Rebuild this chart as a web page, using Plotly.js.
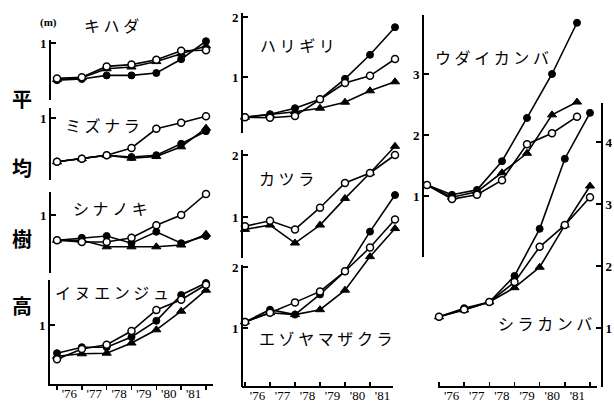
<!DOCTYPE html>
<html><head><meta charset="utf-8">
<script src="https://cdn.plot.ly/plotly-3.0.1.min.js"></script>
<style>html,body{margin:0;padding:0;background:#fff}#chart{width:614px;height:405px}</style>
</head><body><div id="chart"></div>
<script>
// ---------- data (metres) ----------
const years = [1975, 1976, 1977, 1978, 1979, 1980, 1981];
const labelYears = [1975.5, 1976.5, 1977.5, 1978.5, 1979.5, 1980.5];
const yearLabels = ["'76", "'77", "'78", "'79", "'80", "'81"];

const kihadaFilled = [0.38, 0.40, 0.46, 0.46, 0.50, 0.73, 1.03];
const kihadaOpen   = [0.41, 0.43, 0.61, 0.64, 0.72, 0.87, 0.88];
const kihadaTri    = [0.39, 0.42, 0.57, 0.60, 0.69, 0.82, 0.95];

const mizunaraFilled = [0.27, 0.32, 0.38, 0.35, 0.38, 0.57, 0.78];
const mizunaraOpen   = [0.27, 0.32, 0.38, 0.50, 0.82, 0.92, 1.03];
const mizunaraTri    = [0.27, 0.32, 0.38, 0.33, 0.36, 0.52, 0.83];

const shinanokiFilled = [0.58, 0.62, 0.65, 0.53, 0.72, 0.53, 0.65];
const shinanokiOpen   = [0.58, 0.55, 0.55, 0.62, 0.83, 1.00, 1.35];
const shinanokiTri    = [0.58, 0.58, 0.47, 0.47, 0.47, 0.50, 0.68];

const inuenjuFilled = [0.53, 0.63, 0.63, 0.80, 1.07, 1.50, 1.70];
const inuenjuOpen   = [0.43, 0.60, 0.67, 0.90, 1.25, 1.42, 1.67];
const inuenjuTri    = [0.48, 0.52, 0.53, 0.70, 0.92, 1.23, 1.58];

const harigiriFilled = [0.33, 0.38, 0.48, 0.63, 0.97, 1.37, 1.83];
const harigiriOpen   = [0.33, 0.32, 0.35, 0.63, 0.90, 1.02, 1.30];
const harigiriTri    = [0.33, 0.37, 0.42, 0.48, 0.58, 0.77, 0.92];

const katsuraOpen = [0.85, 0.94, 0.80, 1.15, 1.55, 1.71, 2.00];
const katsuraTri  = [0.80, 0.87, 0.58, 0.87, 1.30, 1.71, 2.14];

const ezoyamaFilled = [1.10, 1.30, 1.22, 1.55, 1.93, 2.58, 3.18];
const ezoyamaOpen   = [1.10, 1.25, 1.42, 1.60, 1.93, 2.32, 2.78];
const ezoyamaTri    = [1.10, 1.25, 1.22, 1.30, 1.62, 2.17, 2.63];

const udaiFilled = [1.18, 1.02, 1.10, 1.57, 2.28, 3.00, 3.84];
const udaiOpen   = [1.18, 0.95, 1.02, 1.26, 1.85, 2.03, 2.30];
const udaiTri    = [1.18, 0.98, 1.07, 1.38, 1.70, 2.33, 2.54];

const shirakanbaFilled = [1.18, 1.32, 1.42, 1.84, 2.60, 3.73, 4.47];
const shirakanbaOpen   = [1.18, 1.30, 1.42, 1.74, 2.31, 2.66, 3.11];
const shirakanbaTri    = [1.18, 1.29, 1.42, 1.65, 1.98, 2.66, 3.29];

// ---------- geometry ----------
const W = 614, H = 405;
const px = p => p / W, py = p => 1 - p / H;

const cols = {
  c1:  {id: 'x',  x0: 57,  x6: 206},
  c2:  {id: 'x2', x0: 245, x6: 395},
  c3:  {id: 'x3', x0: 439, x6: 590},
  c3u: {id: 'x4', x0: 427, x6: 577}
};
function yr(c, p) { const dx = (c.x6 - c.x0) / 6; return years[0] + (p - c.x0) / dx; }

const panels = [
  {name: 'キ ハ ダ', lx: 111, ly: 25, col: 'c1', s: {filled: kihadaFilled, tri: kihadaTri, open: kihadaOpen},
   ref: 1, refPix: 43, scale: 60, segTop: 40, segBot: 100, axisX: 50, tv: [1], side: 'left'},
  {name: 'ミ ズ ナ ラ', lx: 102, ly: 125, col: 'c1', s: {filled: mizunaraFilled, tri: mizunaraTri, open: mizunaraOpen},
   ref: 1, refPix: 118, scale: 60, segTop: 108, segBot: 180, axisX: 50, tv: [1], side: 'left'},
  {name: 'シ ナ ノ キ', lx: 110, ly: 208, col: 'c1', s: {filled: shinanokiFilled, tri: shinanokiTri, open: shinanokiOpen},
   ref: 1, refPix: 215, scale: 60, segTop: 192, segBot: 273, axisX: 50, tv: [1], side: 'left'},
  {name: 'イ ヌ エ ン ジ ュ', lx: 112, ly: 292, col: 'c1', s: {filled: inuenjuFilled, tri: inuenjuTri, open: inuenjuOpen},
   ref: 1, refPix: 325, scale: 60, segTop: 280, segBot: 386, axisX: 49, tv: [1], side: 'left'},
  {name: 'ハ リ ギ リ', lx: 297, ly: 45, col: 'c2', s: {filled: harigiriFilled, tri: harigiriTri, open: harigiriOpen},
   ref: 1, refPix: 77, scale: 60, segTop: 13, segBot: 133, axisX: 242, tv: [1, 2], side: 'left'},
  {name: 'カ ツ ラ', lx: 286, ly: 178, col: 'c2', s: {tri: katsuraTri, open: katsuraOpen},
   ref: 1, refPix: 217, scale: 62, segTop: 150, segBot: 258, axisX: 242, tv: [1, 2], side: 'left'},
  {name: 'エ ゾ ヤ マ ザ ク ラ', lx: 326, ly: 338, col: 'c2', s: {filled: ezoyamaFilled, tri: ezoyamaTri, open: ezoyamaOpen},
   ref: 1, refPix: 328, scale: 61, segTop: 265, segBot: 387, axisX: 242, tv: [1, 2], side: 'left'},
  {name: 'ウ ダ イ カ ン バ', lx: 492, ly: 57, col: 'c3u', s: {filled: udaiFilled, tri: udaiTri, open: udaiOpen},
   ref: 1, refPix: 196, scale: 61, segTop: 15, segBot: 257, axisX: 423, tv: [1, 2, 3], side: 'left'},
  {name: 'シ ラ カ ン バ', lx: 545, ly: 323, col: 'c3', s: {filled: shirakanbaFilled, tri: shirakanbaTri, open: shirakanbaOpen},
   ref: 1, refPix: 328, scale: 62, segTop: 103, segBot: 387, axisX: 602, tv: [1, 2, 3, 4], side: 'right'}
];

const styles = {
  filled: {symbol: 'circle', size: 7, color: '#000', line: {color: '#000', width: 1}},
  tri:    {symbol: 'triangle-up', size: 8, color: '#000', line: {color: '#000', width: 1}},
  open:   {symbol: 'circle', size: 7, color: '#fff', line: {color: '#000', width: 1.5}}
};

const layout = {
  width: W, height: H, margin: {l: 0, r: 0, t: 0, b: 0, pad: 0},
  paper_bgcolor: '#fff', plot_bgcolor: 'rgba(0,0,0,0)',
  showlegend: false, hovermode: false, dragmode: false,
  font: {family: 'Liberation Serif', color: '#000'},
  annotations: []
};
const traces = [];

// data x axes (hidden)
Object.values(cols).forEach(c => {
  const key = c.id === 'x' ? 'xaxis' : 'xaxis' + c.id.slice(1);
  layout[key] = {visible: false, domain: [0, 1], range: [yr(c, 0), yr(c, W)], anchor: 'free', position: 0, fixedrange: true};
});
// dummy axes
layout.xaxis8 = {visible: false, domain: [0, 1], range: [0, 1], anchor: 'free', position: 0};
layout.yaxis20 = {visible: false, domain: [0, 1], range: [0, 1], anchor: 'free', position: 0};

panels.forEach((p, i) => {
  const c = cols[p.col];
  const v = pix => p.ref + (p.refPix - pix) / p.scale;
  const yid = i + 1;
  layout['yaxis' + (yid === 1 ? '' : yid)] = {visible: false, domain: [0, 1], range: [v(H), v(0)], anchor: c.id, fixedrange: true};
  ['filled', 'tri', 'open'].forEach(k => {
    if (!p.s[k]) return;
    traces.push({type: 'scatter', mode: 'lines+markers', x: years, y: p.s[k],
      xaxis: c.id, yaxis: 'y' + (yid === 1 ? '' : yid),
      line: {color: '#000', width: 1.6}, marker: styles[k], cliponaxis: false, hoverinfo: 'skip'});
  });
  // visible axis segment
  const vid = 10 + i;
  layout['yaxis' + vid] = {
    domain: [py(p.segBot), py(p.segTop)], range: [v(p.segBot), v(p.segTop)],
    anchor: 'free', position: px(p.axisX), side: p.side,
    showline: true, linecolor: '#000', linewidth: 2,
    ticks: 'inside', ticklen: 5, tickwidth: 1.5, tickcolor: '#000',
    tickmode: 'array', tickvals: p.tv, ticktext: p.tv.map(String),
    tickfont: {family: 'Liberation Serif', size: 13, color: '#000', weight: 'bold'},
    showgrid: false, zeroline: false, fixedrange: true
  };
  traces.push({type: 'scatter', x: [null], y: [null], xaxis: 'x8', yaxis: 'y' + vid, hoverinfo: 'skip', showlegend: false});
  layout.annotations.push({text: p.name, xref: 'paper', yref: 'paper', x: px(p.lx), y: py(p.ly),
    xanchor: 'center', yanchor: 'middle', showarrow: false,
    font: {family: 'Noto Sans CJK JP', size: 16, color: '#000'}});
});

// visible bottom x axes
const xVis = [
  {id: 5, col: 'c1', l: 48, r: 213, y: 385, ticks: 'outside'},
  {id: 6, col: 'c2', l: 242, r: 393, y: 387, ticks: 'inside'},
  {id: 7, col: 'c3', l: 438, r: 597, y: 387, ticks: 'inside'}
];
xVis.forEach(a => {
  const c = cols[a.col];
  layout['xaxis' + a.id] = {
    domain: [px(a.l), px(a.r)], range: [yr(c, a.l), yr(c, a.r)],
    anchor: 'free', position: py(a.y),
    showline: true, linecolor: '#000', linewidth: 2,
    ticks: 'outside', ticklen: 0, tickwidth: 0,
    tickmode: 'array', tickvals: labelYears, ticktext: yearLabels,
    ticklabelstandoff: -4,
    tickfont: {family: 'Liberation Serif', size: 13, color: '#000'},
    minor: {tickmode: 'array', tickvals: years, ticks: a.ticks, ticklen: 4, tickwidth: 1.5, tickcolor: '#000'},
    showgrid: false, zeroline: false, fixedrange: true
  };
  traces.push({type: 'scatter', x: [null], y: [null], xaxis: 'x' + a.id, yaxis: 'y20', hoverinfo: 'skip', showlegend: false});
});

// side title and unit
[['平', 98], ['均', 168], ['樹', 238], ['高', 305]].forEach(([t, y]) => {
  layout.annotations.push({text: t, xref: 'paper', yref: 'paper', x: px(22), y: py(y),
    xanchor: 'center', yanchor: 'middle', showarrow: false,
    font: {family: 'Noto Sans CJK JP', size: 20, color: '#000', weight: 'bold'}});
});
layout.annotations.push({text: '(m)', xref: 'paper', yref: 'paper', x: px(49), y: py(22),
  xanchor: 'center', yanchor: 'middle', showarrow: false,
  font: {family: 'Liberation Serif', size: 11, color: '#000', weight: 'bold'}});

Plotly.newPlot('chart', traces, layout, {displayModeBar: false, staticPlot: true});
</script>
</body></html>
